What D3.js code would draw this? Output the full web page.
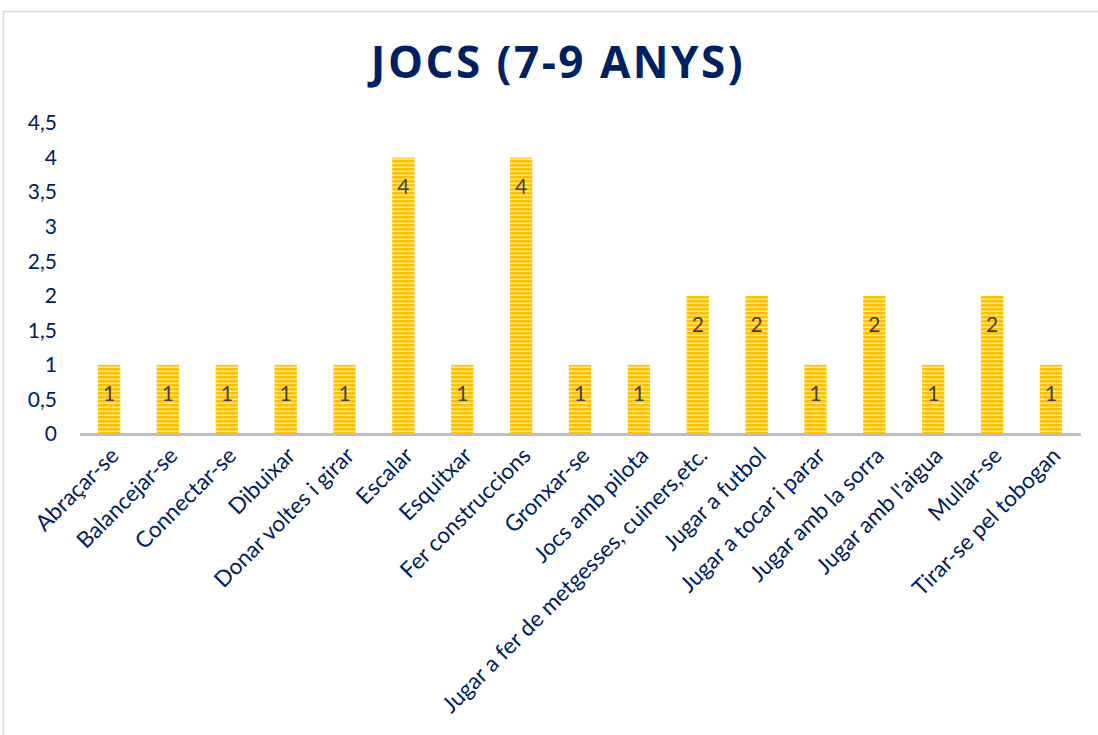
<!DOCTYPE html>
<html><head><meta charset="utf-8">
<script src="https://cdn.jsdelivr.net/npm/d3@7"></script>
<style>body{margin:0;background:#fff;} svg{display:block;}</style>
</head><body><svg id="c" width="1098" height="735"></svg>
<script>
const categories = ["Abraçar-se","Balancejar-se","Connectar-se","Dibuixar","Donar voltes i girar","Escalar","Esquitxar","Fer construccions","Gronxar-se","Jocs amb pilota","Jugar a fer de metgesses, cuiners,etc.","Jugar a futbol","Jugar a tocar i parar","Jugar amb la sorra","Jugar amb l'aigua","Mullar-se","Tirar-se pel tobogan"];
const values = [1,1,1,1,1,4,1,4,1,1,2,2,1,2,1,2,1];
const yTicks = [0,0.5,1,1.5,2,2.5,3,3.5,4,4.5];
const title = "JOCS (7-9 ANYS)";

const svg = d3.select("#c");
const navy = "#002060";
const font = "Lato, 'Open Sans', sans-serif";

svg.append("rect").attr("x",3.5).attr("y",11.5).attr("width",1100).attr("height",730)
  .attr("fill","#fff").attr("stroke","#D9D9D9").attr("stroke-width",1.5);

const defs = svg.append("defs");
const pat = defs.append("pattern").attr("id","stripes").attr("patternUnits","userSpaceOnUse")
  .attr("width",8).attr("height",4);
pat.append("rect").attr("width",8).attr("height",4).attr("fill","#FFC000");
pat.append("rect").attr("y",2.5).attr("width",8).attr("height",1.5).attr("fill","#FFE699");

const x = d3.scaleBand().domain(categories).range([79.6,1080.4]).paddingInner(0.62).paddingOuter(0.31);
const y = d3.scaleLinear().domain([0,4.5]).range([434,123]);

svg.append("text").attr("x",558).attr("y",78).attr("text-anchor","middle")
  .attr("font-family","'Open Sans', sans-serif").attr("font-weight",700).attr("font-size",44)
  .attr("letter-spacing",2.5).attr("fill",navy).text(title);

// y axis labels
const fmt = d => String(d).replace(".",",");
svg.append("g").selectAll("text").data(yTicks).join("text")
  .attr("x",57).attr("y",d=>y(d)).attr("dy","0.35em").attr("text-anchor","end")
  .attr("font-family",font).attr("font-size",21).attr("fill",navy).text(fmt);

// bars
svg.append("g").selectAll("rect").data(values).join("rect")
  .attr("x",(d,i)=>x(categories[i])).attr("width",x.bandwidth())
  .attr("y",d=>y(d)).attr("height",d=>y(0)-y(d))
  .attr("fill","url(#stripes)");

// axis line
const xAxis = d3.axisBottom(x).tickSize(0).tickSizeOuter(0);
const gx = svg.append("g").attr("transform",`translate(0,${y(0)})`).call(xAxis);
gx.select(".domain").attr("stroke","#BFBFBF").attr("stroke-width",3);
gx.selectAll(".tick text").attr("font-family",font).attr("font-size",22.5).attr("fill",navy)
  .attr("text-anchor","end").attr("dy",0).attr("y",0)
  .attr("transform","translate(11,23) rotate(-45)");

// data labels
svg.append("g").selectAll("text").data(values).join("text")
  .attr("x",(d,i)=>x(categories[i])+x.bandwidth()/2).attr("y",d=>y(d)+29).attr("dy","0.35em")
  .attr("text-anchor","middle").attr("font-family",font).attr("font-size",21).attr("fill","#404040")
  .text(d=>d);
</script></body></html>
